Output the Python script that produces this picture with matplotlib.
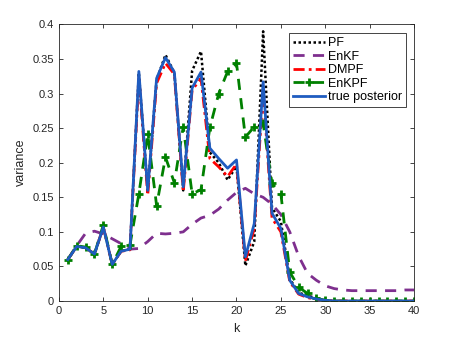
import numpy as np
import matplotlib
matplotlib.use("Agg")
import matplotlib.pyplot as plt

plt.rcParams['font.family'] = ['Liberation Sans', 'DejaVu Sans']

k = np.arange(1, 41)

pf = [0.060, 0.079, 0.077, 0.068, 0.107, 0.053, 0.072, 0.075, 0.330, 0.160,
      0.320, 0.356, 0.330, 0.160, 0.333, 0.361, 0.215, 0.200, 0.175, 0.195,
      0.051, 0.086, 0.390, 0.135, 0.115, 0.032, 0.012, 0.008, 0.004, 0.001,
      0.0, 0.0, 0.0, 0.0, 0.0, 0.0, 0.0, 0.0, 0.0, 0.0]

enkf = [0.060, 0.080, 0.098, 0.101, 0.097, 0.090, 0.083, 0.075, 0.076, 0.086,
        0.098, 0.097, 0.098, 0.100, 0.111, 0.120, 0.124, 0.133, 0.146, 0.157,
        0.163, 0.155, 0.150, 0.140, 0.125, 0.100, 0.065, 0.040, 0.030, 0.022,
        0.018, 0.016, 0.015, 0.015, 0.015, 0.015, 0.015, 0.015, 0.016, 0.016]

dmpf = [0.060, 0.079, 0.077, 0.068, 0.107, 0.053, 0.072, 0.074, 0.325, 0.153,
        0.315, 0.344, 0.328, 0.158, 0.305, 0.322, 0.206, 0.194, 0.180, 0.198,
        0.058, 0.105, 0.305, 0.120, 0.100, 0.028, 0.010, 0.005, 0.002, 0.001,
        0.0, 0.0, 0.0, 0.0, 0.0, 0.0, 0.0, 0.0, 0.0, 0.0]

enkpf = [0.060, 0.080, 0.078, 0.068, 0.110, 0.053, 0.079, 0.081, 0.155, 0.241,
         0.138, 0.208, 0.171, 0.252, 0.155, 0.161, 0.251, 0.300, 0.332, 0.344,
         0.237, 0.252, 0.257, 0.170, 0.155, 0.042, 0.020, 0.011, 0.004, 0.001,
         0.0, 0.0, 0.0, 0.0, 0.0, 0.0, 0.0, 0.0, 0.0, 0.0]

truth = [0.060, 0.079, 0.077, 0.068, 0.107, 0.053, 0.072, 0.075, 0.332, 0.160,
         0.322, 0.352, 0.331, 0.165, 0.308, 0.331, 0.221, 0.206, 0.192, 0.204,
         0.064, 0.112, 0.317, 0.127, 0.105, 0.030, 0.011, 0.006, 0.003, 0.001,
         0.0, 0.0, 0.0, 0.0, 0.0, 0.0, 0.0, 0.0, 0.0, 0.0]

fig = plt.figure(figsize=(4.57, 3.39), dpi=100)
ax = fig.add_axes([0.129, 0.112, 0.777, 0.816])

ax.plot(k, pf, color="black", linestyle=(0, (1, 1)), linewidth=1.8, label="PF")
ax.plot(k, enkf, color="#7e2f8e", linestyle=(0, (4, 3)), linewidth=2, label="EnKF")
ax.plot(k, dmpf, color="#ff0000", linestyle=(0, (4, 1.5, 1, 1.5)), linewidth=2, label="DMPF")
ax.plot(k, enkpf, color="#008000", linestyle=(0, (4, 3)), linewidth=2,
        marker="+", markersize=6, markeredgewidth=2, label="EnKPF")
ax.plot(k, truth, color="#1f5cc0", linestyle="-", linewidth=2, label="true posterior")

ax.set_xlim(0, 40)
ax.set_ylim(0, 0.4)
ax.set_xticks(range(0, 41, 5))
ax.set_yticks(np.arange(0, 0.41, 0.05))
ax.set_yticklabels(["0", "0.05", "0.1", "0.15", "0.2", "0.25", "0.3", "0.35", "0.4"])

grey = "#262626"
for s in ax.spines.values():
    s.set_color(grey)
    s.set_linewidth(0.6)
ax.tick_params(direction="in", top=True, right=True, length=3, width=0.6,
               colors=grey, labelsize=8, labelcolor=grey)

ax.set_xlabel("k", fontsize=9, color=grey, labelpad=5)
ax.set_ylabel("variance", fontsize=9, color=grey, labelpad=4)

leg = ax.legend(loc="upper right", bbox_to_anchor=(0.977, 0.968), fontsize=9,
                fancybox=False, framealpha=1, edgecolor=grey, handlelength=2.6,
                borderpad=0.3, labelspacing=0.12, handletextpad=0.2,
                borderaxespad=0)
leg.get_frame().set_linewidth(0.6)

fig.savefig("out.png", dpi=100)
